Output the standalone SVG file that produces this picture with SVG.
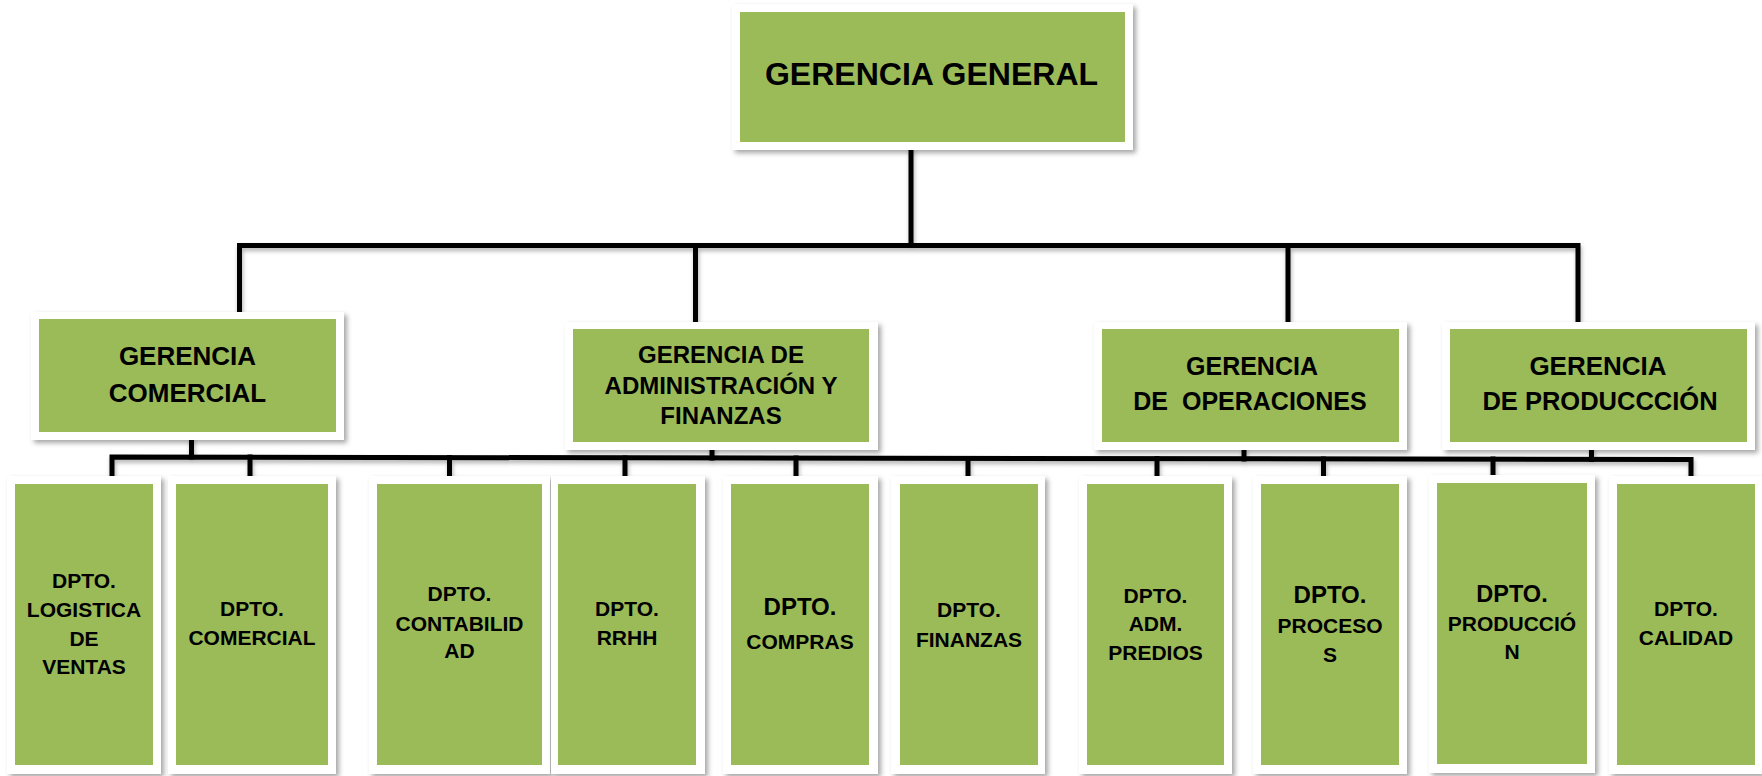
<svg xmlns="http://www.w3.org/2000/svg" width="1762" height="776" viewBox="0 0 1762 776">
<defs>
<filter id="sh" x="-10%" y="-10%" width="125%" height="125%">
<feDropShadow dx="3" dy="3" stdDeviation="2.5" flood-color="#000" flood-opacity="0.35"/>
</filter>
<filter id="lsh" x="-5%" y="-50%" width="110%" height="300%">
<feDropShadow dx="1" dy="3" stdDeviation="2" flood-color="#000" flood-opacity="0.3"/>
</filter>
</defs>
<style>
.frame{fill:#ffffff;filter:url(#sh);}
.box{fill:#9BBB59;}
text{font-family:"Liberation Sans",Arial,sans-serif;font-weight:bold;fill:#000;text-anchor:middle;white-space:pre;}
.t0{font-size:32px;}
.t1{font-size:26px;}
.t2{font-size:24px;}
.t3{font-size:21px;}
.t4{font-size:24px;}
.ln{fill:none;stroke:#000;stroke-width:5;stroke-linecap:square;stroke-linejoin:miter;}
</style>
<rect width="1762" height="776" fill="#ffffff"/>
<g id="connectors" filter="url(#lsh)">
<path class="ln" d="M911 150 V245.5"/>
<path class="ln" d="M239.5 312 V245.5 H1578 V322"/>
<path class="ln" d="M695.5 245.5 V322"/>
<path class="ln" d="M1288 245.5 V322"/>
<path class="ln" d="M191.5 440 V457"/>
<path class="ln" d="M712 450 V458"/>
<path class="ln" d="M1244 450 V459"/>
<path class="ln" d="M1591.5 450 V459.5"/>
<path class="ln" d="M112 475 V457 L1691 459.5 V476"/>
<path class="ln" d="M250 457 V476"/>
<path class="ln" d="M449.5 457.5 V476"/>
<path class="ln" d="M625 458 V476"/>
<path class="ln" d="M796 458 V476"/>
<path class="ln" d="M968 458.5 V476"/>
<path class="ln" d="M1157 458.5 V476"/>
<path class="ln" d="M1323.5 459 V476"/>
<path class="ln" d="M1493 459 V476"/>
</g>
<g id="gerencia-general">
<rect class="frame" x="732" y="4" width="401" height="146"/>
<rect class="box" x="740" y="12" width="385" height="130"/>
<text class="t0" x="931.5" y="85">GERENCIA GENERAL</text>
</g>
<g id="gerencia-comercial">
<rect class="frame" x="31" y="312" width="313" height="128"/>
<rect class="box" x="39" y="319" width="297" height="113"/>
<text class="t1" x="187.5" y="365">GERENCIA</text>
<text class="t1" x="187.5" y="402">COMERCIAL</text>
</g>
<g id="gerencia-administracion">
<rect class="frame" x="565" y="322" width="313" height="128"/>
<rect class="box" x="573" y="329" width="296" height="113"/>
<text class="t2" x="721" y="363">GERENCIA DE</text>
<text class="t2" x="721" y="394">ADMINISTRACIÓN Y</text>
<text class="t2" x="721" y="424">FINANZAS</text>
</g>
<g id="gerencia-operaciones">
<rect class="frame" x="1094" y="322" width="313" height="128"/>
<rect class="box" x="1102" y="329" width="297" height="113"/>
<text class="t1" x="1252" y="375" style="font-size:25px">GERENCIA</text>
<text class="t1" x="1250" y="410" style="font-size:25px">DE  OPERACIONES</text>
</g>
<g id="gerencia-produccion">
<rect class="frame" x="1442" y="322" width="313" height="128"/>
<rect class="box" x="1450" y="329" width="297" height="113"/>
<text class="t1" x="1598" y="375">GERENCIA</text>
<text class="t1" x="1600" y="410" style="font-size:25.5px">DE PRODUCCCIÓN</text>
</g>
<g id="dpto-logistica">
<rect class="frame" x="7" y="476" width="154" height="298"/>
<rect class="box" x="15" y="484" width="138" height="281"/>
<text class="t3" x="84" y="588">DPTO.</text>
<text class="t3" x="84" y="617">LOGISTICA</text>
<text class="t3" x="84" y="646">DE</text>
<text class="t3" x="84" y="674">VENTAS</text>
</g>
<g id="dpto-comercial">
<rect class="frame" x="168" y="476" width="168" height="298"/>
<rect class="box" x="176" y="484" width="152" height="281"/>
<text class="t3" x="252" y="616">DPTO.</text>
<text class="t3" x="252" y="645">COMERCIAL</text>
</g>
<g id="dpto-contabilidad">
<rect class="frame" x="369" y="476" width="181" height="298"/>
<rect class="box" x="377" y="484" width="165" height="281"/>
<text class="t3" x="459.5" y="601">DPTO.</text>
<text class="t3" x="459.5" y="631">CONTABILID</text>
<text class="t3" x="459.5" y="658">AD</text>
</g>
<g id="dpto-rrhh">
<rect class="frame" x="551" y="476" width="154" height="298"/>
<rect class="box" x="558" y="484" width="138" height="281"/>
<text class="t3" x="627" y="616">DPTO.</text>
<text class="t3" x="627" y="645">RRHH</text>
</g>
<g id="dpto-compras">
<rect class="frame" x="723" y="476" width="155" height="298"/>
<rect class="box" x="731" y="484" width="138" height="281"/>
<text class="t4" x="800" y="615">DPTO.</text>
<text class="t3" x="800" y="649">COMPRAS</text>
</g>
<g id="dpto-finanzas">
<rect class="frame" x="891" y="476" width="154" height="298"/>
<rect class="box" x="900" y="484" width="138" height="281"/>
<text class="t3" x="969" y="617">DPTO.</text>
<text class="t3" x="969" y="647">FINANZAS</text>
</g>
<g id="dpto-adm-predios">
<rect class="frame" x="1079" y="476" width="153" height="298"/>
<rect class="box" x="1087" y="484" width="137" height="281"/>
<text class="t3" x="1155.5" y="603">DPTO.</text>
<text class="t3" x="1155.5" y="631">ADM.</text>
<text class="t3" x="1155.5" y="660">PREDIOS</text>
</g>
<g id="dpto-procesos">
<rect class="frame" x="1253" y="476" width="154" height="298"/>
<rect class="box" x="1261" y="484" width="138" height="281"/>
<text class="t4" x="1330" y="603">DPTO.</text>
<text class="t3" x="1330" y="633">PROCESO</text>
<text class="t3" x="1330" y="662">S</text>
</g>
<g id="dpto-produccion">
<rect class="frame" x="1429" y="475" width="166" height="298"/>
<rect class="box" x="1437" y="483" width="150" height="281"/>
<text class="t4" x="1512" y="602" style="font-size:23.5px">DPTO.</text>
<text class="t3" x="1512" y="631">PRODUCCIÓ</text>
<text class="t3" x="1512" y="659">N</text>
</g>
<g id="dpto-calidad">
<rect class="frame" x="1609" y="476" width="153" height="298"/>
<rect class="box" x="1617" y="484" width="138" height="281"/>
<text class="t3" x="1686" y="616">DPTO.</text>
<text class="t3" x="1686" y="645">CALIDAD</text>
</g>
</svg>
